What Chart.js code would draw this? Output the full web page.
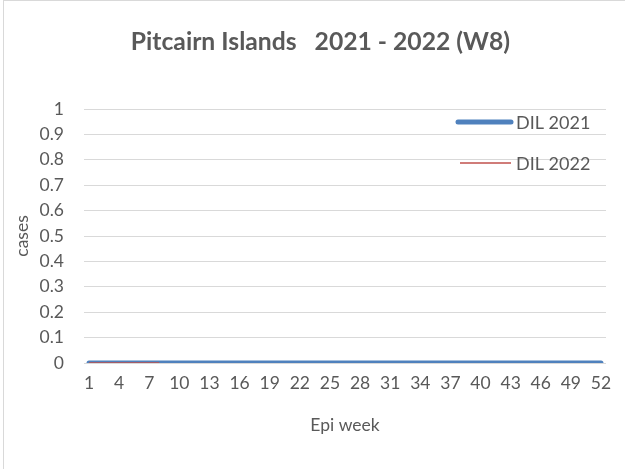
<!DOCTYPE html>
<html>
<head>
<meta charset="utf-8">
<script src="https://cdn.jsdelivr.net/npm/chart.js@4/dist/chart.umd.min.js"></script>
<style>
  html, body { margin: 0; padding: 0; background: #fff; overflow: hidden; }
  #wrap { position: relative; width: 625px; height: 469px; }
  #frame { position: absolute; left: 3px; top: 0px; width: 700px; height: 600px; border: 1px solid #d9d9d9; pointer-events: none; }
  canvas { position: absolute; left: 0; top: 0; }
</style>
</head>
<body>
<div id="wrap">
  <canvas id="c" width="625" height="469"></canvas>
  <div id="frame"></div>
</div>
<script>
const weeks = Array.from({length: 52}, (_, i) => String(i + 1));
const dil2021 = [0,0,0,0,0,0,0,0,0,0,0,0,0,0,0,0,0,0,0,0,0,0,0,0,0,0,0,0,0,0,0,0,0,0,0,0,0,0,0,0,0,0,0,0,0,0,0,0,0,0,0,0];
const dil2022 = [0,0,0,0,0,0,0,0];
const seriesNames = ['DIL 2021', 'DIL 2022'];
const chartTitle = 'Pitcairn Islands   2021 - 2022 (W8)';
const xTitle = 'Epi week';
const yTitle = 'cases';

const FONT = 'Lato, "Open Sans", sans-serif';
const TXT = '#595959';
const BLUE = '#4f81bd';
const RED = '#c0504d';
const FS = 17.5;

const titleAndLegend = {
  id: 'titleAndLegend',
  afterDatasetsDraw(chart) {
    const ctx = chart.ctx;
    ctx.save();
    // chart title
    ctx.fillStyle = TXT;
    ctx.font = 'bold 24.7px ' + FONT;
    ctx.textAlign = 'center';
    ctx.textBaseline = 'middle';
    ctx.fillText(chartTitle, 320.5, 42);
    // legend inside plot
    const items = [
      { label: seriesNames[0], color: BLUE, width: 5, x1: 458, x2: 511, y: 122 },
      { label: seriesNames[1], color: RED, width: 1.5, x1: 460, x2: 511, y: 163 }
    ];
    items.forEach(it => {
      ctx.beginPath();
      ctx.strokeStyle = it.color;
      ctx.lineWidth = it.width;
      ctx.lineCap = it.width > 2 ? 'round' : 'butt';
      ctx.moveTo(it.x1, it.y);
      ctx.lineTo(it.x2, it.y);
      ctx.stroke();
      ctx.fillStyle = TXT;
      ctx.font = '18px ' + FONT;
      ctx.textBaseline = 'middle';
      ctx.textAlign = 'left';
      ctx.fillText(it.label, 516, it.y + 1);
    });
    ctx.restore();
  }
};

new Chart(document.getElementById('c'), {
  type: 'line',
  data: {
    labels: weeks,
    datasets: [
      { label: seriesNames[0], data: dil2021, borderColor: BLUE, backgroundColor: BLUE, borderWidth: 5, borderCapStyle: 'round', pointRadius: 0, order: 1, tension: 0 },
      { label: seriesNames[1], data: dil2022, borderColor: RED, backgroundColor: RED, borderWidth: 1.5, pointRadius: 0, order: 0, tension: 0 }
    ]
  },
  options: {
    responsive: false,
    animation: false,
    events: [],
    layout: { padding: { left: 0, right: 19, top: 109, bottom: 0 } },
    plugins: {
      legend: { display: false },
      tooltip: { enabled: false },
      title: { display: false }
    },
    scales: {
      x: {
        offset: true,
        grid: { display: false, drawTicks: false },
        border: { display: false },
        ticks: {
          color: TXT,
          font: { family: FONT, size: FS },
          maxRotation: 0,
          autoSkip: false,
          padding: 10,
          callback: function(v, i) { return i % 3 === 0 ? weeks[i] : ''; }
        },
        title: { display: true, text: xTitle, color: TXT, font: { family: FONT, size: FS }, padding: { top: 0, bottom: 33 } },
        afterFit(scale) { scale.height = 106; }
      },
      y: {
        min: 0,
        max: 1,
        grid: { color: '#d9d9d9', lineWidth: 1, drawTicks: false },
        border: { display: false },
        ticks: {
          stepSize: 0.1,
          color: TXT,
          font: { family: FONT, size: FS },
          padding: 20,
          callback: function(v) { return String(Number(v.toFixed(1))); }
        },
        title: { display: true, text: yTitle, color: TXT, font: { family: FONT, size: FS }, padding: { top: 12, bottom: 0 } },
        afterFit(scale) { scale.width = 84; }
      }
    }
  },
  plugins: [titleAndLegend]
});
</script>
</body>
</html>
